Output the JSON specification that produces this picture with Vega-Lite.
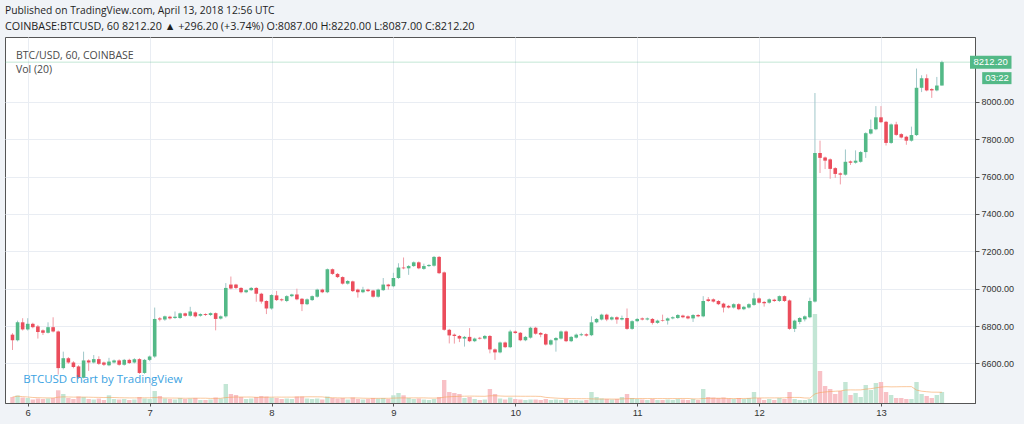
{
  "$schema": "https://vega.github.io/schema/vega-lite/v6.json",
  "width": 970,
  "height": 366,
  "autosize": {"type": "none"},
  "padding": {"left": 5, "top": 37, "right": 49, "bottom": 21},
  "background": "#f0f3f7",
  "title": {
    "text": "Published on TradingView.com, April 13, 2018 12:56 UTC",
    "subtitle": "COINBASE:BTCUSD, 60  8212.20 ▲ +296.20 (+3.74%) O:8087.00 H:8220.00 L:8087.00 C:8212.20",
    "anchor": "start",
    "frame": "group",
    "offset": 5,
    "dx": 0,
    "font": "Open Sans",
    "fontSize": 10.3,
    "fontWeight": "normal",
    "color": "#1e1e1e",
    "subtitleFont": "Open Sans",
    "subtitleFontSize": 10.8,
    "subtitleColor": "#1e1e1e",
    "subtitlePadding": 5
  },
  "config": {"view": {"fill": "white", "stroke": "#555555", "strokeWidth": 1}},
  "data": {"values": [
    {"t":-3,"o":6754,"h":6762,"l":6672,"c":6724,"v":600},
    {"t":-2,"o":6724,"h":6829,"l":6718,"c":6820,"v":760},
    {"t":-1,"o":6820,"h":6842,"l":6776,"c":6782,"v":550},
    {"t":0,"o":6782,"h":6842,"l":6776,"c":6812,"v":500},
    {"t":1,"o":6812,"h":6818,"l":6788,"c":6794,"v":350},
    {"t":2,"o":6798,"h":6806,"l":6733,"c":6768,"v":450},
    {"t":3,"o":6777,"h":6782,"l":6752,"c":6764,"v":400},
    {"t":4,"o":6764,"h":6820,"l":6760,"c":6794,"v":450},
    {"t":5,"o":6794,"h":6847,"l":6766,"c":6771,"v":500},
    {"t":6,"o":6771,"h":6776,"l":6540,"c":6575,"v":1270},
    {"t":7,"o":6575,"h":6663,"l":6568,"c":6628,"v":900},
    {"t":8,"o":6628,"h":6634,"l":6598,"c":6605,"v":500},
    {"t":9,"o":6605,"h":6612,"l":6574,"c":6581,"v":400},
    {"t":10,"o":6584,"h":6590,"l":6518,"c":6523,"v":650},
    {"t":11,"o":6523,"h":6663,"l":6520,"c":6616,"v":600},
    {"t":12,"o":6616,"h":6622,"l":6560,"c":6605,"v":400},
    {"t":13,"o":6605,"h":6645,"l":6600,"c":6623,"v":350},
    {"t":14,"o":6623,"h":6638,"l":6592,"c":6598,"v":450},
    {"t":15,"o":6605,"h":6610,"l":6586,"c":6593,"v":300},
    {"t":16,"o":6590,"h":6630,"l":6585,"c":6610,"v":770},
    {"t":17,"o":6605,"h":6621,"l":6600,"c":6616,"v":400},
    {"t":18,"o":6616,"h":6622,"l":6588,"c":6593,"v":350},
    {"t":19,"o":6593,"h":6624,"l":6588,"c":6619,"v":400},
    {"t":20,"o":6619,"h":6625,"l":6597,"c":6602,"v":300},
    {"t":21,"o":6605,"h":6628,"l":6600,"c":6623,"v":350},
    {"t":22,"o":6623,"h":6628,"l":6544,"c":6549,"v":600},
    {"t":23,"o":6549,"h":6624,"l":6544,"c":6619,"v":450},
    {"t":24,"o":6619,"h":6642,"l":6612,"c":6637,"v":400},
    {"t":25,"o":6637,"h":6899,"l":6630,"c":6838,"v":1200},
    {"t":26,"o":6841,"h":6848,"l":6825,"c":6835,"v":700},
    {"t":27,"o":6835,"h":6856,"l":6828,"c":6852,"v":450},
    {"t":28,"o":6850,"h":6855,"l":6835,"c":6841,"v":400},
    {"t":29,"o":6843,"h":6878,"l":6838,"c":6850,"v":350},
    {"t":30,"o":6843,"h":6872,"l":6838,"c":6868,"v":500},
    {"t":31,"o":6868,"h":6872,"l":6850,"c":6855,"v":400},
    {"t":32,"o":6855,"h":6903,"l":6850,"c":6878,"v":450},
    {"t":33,"o":6873,"h":6878,"l":6846,"c":6852,"v":500},
    {"t":34,"o":6855,"h":6868,"l":6850,"c":6864,"v":300},
    {"t":35,"o":6864,"h":6868,"l":6854,"c":6859,"v":300},
    {"t":36,"o":6859,"h":6873,"l":6854,"c":6869,"v":350},
    {"t":37,"o":6869,"h":6873,"l":6777,"c":6838,"v":550},
    {"t":38,"o":6840,"h":6857,"l":6835,"c":6852,"v":450},
    {"t":39,"o":6852,"h":7030,"l":6845,"c":7004,"v":1900},
    {"t":40,"o":7022,"h":7065,"l":6996,"c":7001,"v":900},
    {"t":41,"o":7022,"h":7026,"l":6998,"c":7004,"v":800},
    {"t":42,"o":7004,"h":7008,"l":6975,"c":6981,"v":600},
    {"t":43,"o":6981,"h":6996,"l":6976,"c":6992,"v":400},
    {"t":44,"o":6992,"h":7009,"l":6988,"c":7004,"v":450},
    {"t":45,"o":7004,"h":7008,"l":6930,"c":6973,"v":600},
    {"t":46,"o":6973,"h":6978,"l":6920,"c":6931,"v":700},
    {"t":47,"o":6934,"h":6938,"l":6864,"c":6894,"v":650},
    {"t":48,"o":6894,"h":6970,"l":6888,"c":6966,"v":550},
    {"t":49,"o":6964,"h":6988,"l":6934,"c":6939,"v":500},
    {"t":50,"o":6943,"h":6948,"l":6932,"c":6938,"v":400},
    {"t":51,"o":6934,"h":6965,"l":6928,"c":6960,"v":450},
    {"t":52,"o":6960,"h":6973,"l":6955,"c":6969,"v":400},
    {"t":53,"o":6969,"h":7000,"l":6938,"c":6943,"v":650},
    {"t":54,"o":6946,"h":6950,"l":6880,"c":6917,"v":650},
    {"t":55,"o":6917,"h":6948,"l":6912,"c":6943,"v":450},
    {"t":56,"o":6939,"h":6964,"l":6934,"c":6960,"v":400},
    {"t":57,"o":6957,"h":7000,"l":6952,"c":6995,"v":450},
    {"t":58,"o":6995,"h":7000,"l":6976,"c":6981,"v":350},
    {"t":59,"o":6981,"h":7108,"l":6976,"c":7104,"v":650},
    {"t":60,"o":7104,"h":7108,"l":7074,"c":7079,"v":500},
    {"t":61,"o":7079,"h":7084,"l":7057,"c":7062,"v":450},
    {"t":62,"o":7062,"h":7066,"l":7022,"c":7027,"v":500},
    {"t":63,"o":7027,"h":7046,"l":7022,"c":7041,"v":350},
    {"t":64,"o":7039,"h":7043,"l":6982,"c":6987,"v":550},
    {"t":65,"o":6995,"h":7000,"l":6952,"c":6981,"v":400},
    {"t":66,"o":6981,"h":7010,"l":6976,"c":6995,"v":350},
    {"t":67,"o":6995,"h":7000,"l":6982,"c":6987,"v":400},
    {"t":68,"o":6990,"h":6994,"l":6952,"c":6957,"v":500},
    {"t":69,"o":6957,"h":7000,"l":6952,"c":6995,"v":450},
    {"t":70,"o":6992,"h":7057,"l":6988,"c":7022,"v":500},
    {"t":71,"o":7022,"h":7026,"l":6995,"c":7013,"v":400},
    {"t":72,"o":7013,"h":7085,"l":7008,"c":7057,"v":770},
    {"t":73,"o":7057,"h":7136,"l":7052,"c":7113,"v":1000},
    {"t":74,"o":7113,"h":7167,"l":7104,"c":7109,"v":770},
    {"t":75,"o":7109,"h":7126,"l":7074,"c":7121,"v":500},
    {"t":76,"o":7121,"h":7146,"l":7116,"c":7141,"v":400},
    {"t":77,"o":7141,"h":7146,"l":7104,"c":7109,"v":450},
    {"t":78,"o":7106,"h":7134,"l":7101,"c":7121,"v":350},
    {"t":79,"o":7121,"h":7131,"l":7116,"c":7127,"v":300},
    {"t":80,"o":7123,"h":7175,"l":7118,"c":7170,"v":400},
    {"t":81,"o":7170,"h":7175,"l":7078,"c":7083,"v":600},
    {"t":82,"o":7087,"h":7092,"l":6775,"c":6780,"v":2300},
    {"t":83,"o":6780,"h":6785,"l":6707,"c":6750,"v":1100},
    {"t":84,"o":6754,"h":6760,"l":6706,"c":6747,"v":1000},
    {"t":85,"o":6747,"h":6752,"l":6714,"c":6733,"v":900},
    {"t":86,"o":6733,"h":6747,"l":6690,"c":6742,"v":500},
    {"t":87,"o":6742,"h":6789,"l":6714,"c":6719,"v":600},
    {"t":88,"o":6719,"h":6738,"l":6714,"c":6733,"v":400},
    {"t":89,"o":6737,"h":6742,"l":6728,"c":6733,"v":300},
    {"t":90,"o":6733,"h":6752,"l":6728,"c":6747,"v":350},
    {"t":91,"o":6747,"h":6752,"l":6654,"c":6675,"v":1400},
    {"t":92,"o":6675,"h":6680,"l":6619,"c":6659,"v":900},
    {"t":93,"o":6659,"h":6717,"l":6654,"c":6712,"v":450},
    {"t":94,"o":6712,"h":6717,"l":6682,"c":6687,"v":350},
    {"t":95,"o":6687,"h":6780,"l":6682,"c":6771,"v":550},
    {"t":96,"o":6771,"h":6776,"l":6758,"c":6763,"v":400},
    {"t":97,"o":6764,"h":6768,"l":6719,"c":6724,"v":350},
    {"t":98,"o":6724,"h":6747,"l":6719,"c":6742,"v":300},
    {"t":99,"o":6738,"h":6796,"l":6733,"c":6791,"v":350},
    {"t":100,"o":6791,"h":6796,"l":6754,"c":6759,"v":350},
    {"t":101,"o":6763,"h":6768,"l":6740,"c":6754,"v":300},
    {"t":102,"o":6757,"h":6762,"l":6696,"c":6701,"v":400},
    {"t":103,"o":6701,"h":6729,"l":6696,"c":6724,"v":300},
    {"t":104,"o":6724,"h":6741,"l":6663,"c":6736,"v":350},
    {"t":105,"o":6733,"h":6776,"l":6728,"c":6771,"v":300},
    {"t":106,"o":6771,"h":6776,"l":6714,"c":6719,"v":400},
    {"t":107,"o":6719,"h":6747,"l":6714,"c":6742,"v":300},
    {"t":108,"o":6738,"h":6760,"l":6733,"c":6754,"v":300},
    {"t":109,"o":6751,"h":6764,"l":6746,"c":6756,"v":250},
    {"t":110,"o":6756,"h":6761,"l":6744,"c":6749,"v":300},
    {"t":111,"o":6751,"h":6852,"l":6746,"c":6820,"v":1100},
    {"t":112,"o":6820,"h":6843,"l":6815,"c":6838,"v":600},
    {"t":113,"o":6835,"h":6866,"l":6830,"c":6861,"v":450},
    {"t":114,"o":6861,"h":6866,"l":6826,"c":6835,"v":400},
    {"t":115,"o":6835,"h":6852,"l":6830,"c":6847,"v":350},
    {"t":116,"o":6847,"h":6852,"l":6812,"c":6835,"v":400},
    {"t":117,"o":6835,"h":6856,"l":6830,"c":6843,"v":600},
    {"t":118,"o":6843,"h":6894,"l":6780,"c":6785,"v":900},
    {"t":119,"o":6785,"h":6831,"l":6780,"c":6826,"v":500},
    {"t":120,"o":6826,"h":6843,"l":6821,"c":6838,"v":400},
    {"t":121,"o":6841,"h":6846,"l":6830,"c":6835,"v":350},
    {"t":122,"o":6835,"h":6846,"l":6830,"c":6841,"v":300},
    {"t":123,"o":6838,"h":6843,"l":6808,"c":6817,"v":400},
    {"t":124,"o":6817,"h":6834,"l":6812,"c":6829,"v":300},
    {"t":125,"o":6832,"h":6861,"l":6824,"c":6829,"v":300},
    {"t":126,"o":6829,"h":6846,"l":6808,"c":6841,"v":350},
    {"t":127,"o":6841,"h":6852,"l":6836,"c":6847,"v":300},
    {"t":128,"o":6843,"h":6864,"l":6838,"c":6859,"v":400},
    {"t":129,"o":6856,"h":6861,"l":6842,"c":6847,"v":350},
    {"t":130,"o":6852,"h":6857,"l":6836,"c":6841,"v":300},
    {"t":131,"o":6841,"h":6864,"l":6822,"c":6859,"v":400},
    {"t":132,"o":6859,"h":6864,"l":6847,"c":6852,"v":300},
    {"t":133,"o":6852,"h":6960,"l":6847,"c":6934,"v":1400},
    {"t":134,"o":6943,"h":6955,"l":6929,"c":6934,"v":600},
    {"t":135,"o":6943,"h":6948,"l":6926,"c":6931,"v":550},
    {"t":136,"o":6934,"h":6939,"l":6912,"c":6917,"v":500},
    {"t":137,"o":6920,"h":6925,"l":6873,"c":6899,"v":550},
    {"t":138,"o":6908,"h":6913,"l":6894,"c":6899,"v":450},
    {"t":139,"o":6899,"h":6922,"l":6894,"c":6917,"v":400},
    {"t":140,"o":6917,"h":6922,"l":6885,"c":6890,"v":500},
    {"t":141,"o":6890,"h":6908,"l":6885,"c":6903,"v":400},
    {"t":142,"o":6899,"h":6922,"l":6894,"c":6917,"v":500},
    {"t":143,"o":6913,"h":6978,"l":6908,"c":6948,"v":1100},
    {"t":144,"o":6948,"h":6953,"l":6920,"c":6925,"v":500},
    {"t":145,"o":6929,"h":6934,"l":6904,"c":6922,"v":300},
    {"t":146,"o":6925,"h":6948,"l":6920,"c":6943,"v":400},
    {"t":147,"o":6941,"h":6946,"l":6929,"c":6934,"v":300},
    {"t":148,"o":6934,"h":6964,"l":6929,"c":6960,"v":500},
    {"t":149,"o":6960,"h":6964,"l":6929,"c":6934,"v":400},
    {"t":150,"o":6937,"h":6942,"l":6780,"c":6785,"v":1100},
    {"t":151,"o":6785,"h":6834,"l":6768,"c":6829,"v":400},
    {"t":152,"o":6822,"h":6848,"l":6810,"c":6843,"v":300},
    {"t":153,"o":6836,"h":6857,"l":6825,"c":6852,"v":300},
    {"t":154,"o":6847,"h":6952,"l":6842,"c":6934,"v":400},
    {"t":155,"o":6931,"h":8047,"l":6926,"c":7726,"v":8900},
    {"t":156,"o":7726,"h":7792,"l":7619,"c":7700,"v":3200},
    {"t":157,"o":7702,"h":7707,"l":7640,"c":7685,"v":1700},
    {"t":158,"o":7692,"h":7697,"l":7588,"c":7641,"v":1400},
    {"t":159,"o":7645,"h":7650,"l":7593,"c":7614,"v":900},
    {"t":160,"o":7617,"h":7622,"l":7558,"c":7610,"v":1200},
    {"t":161,"o":7610,"h":7745,"l":7605,"c":7679,"v":2100},
    {"t":162,"o":7681,"h":7686,"l":7662,"c":7674,"v":800},
    {"t":163,"o":7674,"h":7740,"l":7669,"c":7685,"v":1000},
    {"t":164,"o":7679,"h":7736,"l":7674,"c":7731,"v":600},
    {"t":165,"o":7731,"h":7837,"l":7700,"c":7832,"v":1800},
    {"t":166,"o":7830,"h":7905,"l":7825,"c":7853,"v":1300},
    {"t":167,"o":7853,"h":7977,"l":7848,"c":7917,"v":2000},
    {"t":168,"o":7917,"h":7977,"l":7886,"c":7891,"v":2100},
    {"t":169,"o":7893,"h":7898,"l":7766,"c":7780,"v":1100},
    {"t":170,"o":7780,"h":7884,"l":7775,"c":7879,"v":800},
    {"t":171,"o":7879,"h":7893,"l":7818,"c":7823,"v":500},
    {"t":172,"o":7827,"h":7832,"l":7804,"c":7809,"v":500},
    {"t":173,"o":7813,"h":7818,"l":7770,"c":7792,"v":400},
    {"t":174,"o":7792,"h":7867,"l":7787,"c":7822,"v":400},
    {"t":175,"o":7822,"h":8178,"l":7817,"c":8075,"v":2100},
    {"t":176,"o":8075,"h":8142,"l":8052,"c":8126,"v":900},
    {"t":177,"o":8126,"h":8147,"l":8056,"c":8061,"v":700},
    {"t":178,"o":8068,"h":8073,"l":8021,"c":8061,"v":500},
    {"t":179,"o":8061,"h":8133,"l":8056,"c":8087,"v":800},
    {"t":180,"o":8087,"h":8220,"l":8087,"c":8212.2,"v":1100}
  ]},
  "resolve": {"scale": {"y": "independent"}},
  "layer": [
    {
      "layer": [
        {
          "mark": {"type": "bar", "size": 4.4},
          "encoding": {
            "x": {
              "field": "t", "type": "quantitative",
              "scale": {"domain": [-3.49, 185.53], "nice": false, "zero": false},
              "axis": {
                "title": null,
                "values": [0, 24, 48, 72, 96, 120, 144, 168],
                "labelExpr": "'' + (datum.value / 24 + 6)",
                "grid": true, "gridColor": "#e9edf3",
                "tickSize": 3, "tickColor": "#555555",
                "domainColor": "#555555",
                "labelFont": "Liberation Sans", "labelFontSize": 9.5, "labelColor": "#333333",
                "labelPadding": 1
              }
            },
            "y": {"field": "v", "type": "quantitative", "scale": {"domain": [0, 36600], "nice": false}, "axis": null},
            "color": {"condition": {"test": "datum.c >= datum.o", "value": "#c3e6d5"}, "value": "#f8c1c6"}
          }
        },
        {
          "transform": [{"window": [{"op": "mean", "field": "v", "as": "ma"}], "frame": [-19, 0], "sort": [{"field": "t"}]}],
          "mark": {"type": "line", "color": "#f7a35c", "strokeWidth": 1, "opacity": 0.6},
          "encoding": {
            "x": {"field": "t", "type": "quantitative"},
            "y": {"field": "ma", "type": "quantitative"}
          }
        }
      ]
    },
    {
      "layer": [
        {
          "mark": {"type": "rule", "strokeWidth": 1},
          "encoding": {
            "x": {"field": "t", "type": "quantitative"},
            "y": {
              "field": "l", "type": "quantitative",
              "scale": {"domain": [6415, 8320], "nice": false, "zero": false},
              "axis": {
                "orient": "right", "title": null,
                "values": [6600, 6800, 7000, 7200, 7400, 7600, 7800, 8000],
                "format": ".2f",
                "grid": true, "gridColor": "#e9edf3",
                "tickSize": 4, "tickColor": "#555555",
                "domainColor": "#555555",
                "labelFont": "Liberation Sans", "labelFontSize": 9, "labelColor": "#333333",
                "labelPadding": 2
              }
            },
            "y2": {"field": "h"},
            "color": {"condition": {"test": "datum.c >= datum.o", "value": "#9fc7c9"}, "value": "#f09ca6"}
          }
        },
        {
          "mark": {"type": "bar", "size": 3.6},
          "encoding": {
            "x": {"field": "t", "type": "quantitative"},
            "y": {"field": "o", "type": "quantitative"},
            "y2": {"field": "c"},
            "color": {"condition": {"test": "datum.c >= datum.o", "value": "#53b987"}, "value": "#eb4d5c"}
          }
        },
        {
          "data": {"values": [{}]},
          "mark": {"type": "rule", "color": "#53b987", "opacity": 0.35, "strokeWidth": 1},
          "encoding": {"y": {"datum": 8212.2}}
        },
        {
          "data": {"values": [{}]},
          "mark": {"type": "bar", "color": "#53b987", "height": 13, "clip": false},
          "encoding": {"x": {"datum": 185.53}, "x2": {"datum": 193.7}, "y": {"datum": 8212.2}}
        },
        {
          "data": {"values": [{}]},
          "mark": {"type": "bar", "color": "#53b987", "height": 12, "yOffset": 16, "clip": false},
          "encoding": {"x": {"datum": 187.93}, "x2": {"datum": 193.7}, "y": {"datum": 8212.2}}
        },
        {
          "data": {"values": [{}]},
          "mark": {"type": "text", "color": "white", "font": "Liberation Sans", "fontSize": 9.5, "align": "center", "baseline": "middle", "clip": false},
          "encoding": {"x": {"datum": 189.6}, "y": {"datum": 8212.2}, "text": {"value": "8212.20"}}
        },
        {
          "data": {"values": [{}]},
          "mark": {"type": "text", "color": "white", "font": "Liberation Sans", "fontSize": 9.5, "align": "center", "baseline": "middle", "dy": 16, "clip": false},
          "encoding": {"x": {"datum": 190.85}, "y": {"datum": 8212.2}, "text": {"value": "03:22"}}
        },
        {
          "data": {"values": [{}]},
          "mark": {"type": "text", "color": "#4a4a4a", "font": "Open Sans", "fontSize": 10.5, "align": "left", "baseline": "middle"},
          "encoding": {"x": {"datum": -2.3}, "y": {"datum": 8243}, "text": {"value": "BTC/USD, 60, COINBASE"}}
        },
        {
          "data": {"values": [{}]},
          "mark": {"type": "text", "color": "#4a4a4a", "font": "Open Sans", "fontSize": 10.5, "align": "left", "baseline": "middle"},
          "encoding": {"x": {"datum": -2.3}, "y": {"datum": 8169}, "text": {"value": "Vol (20)"}}
        },
        {
          "data": {"values": [{}]},
          "mark": {"type": "text", "color": "#3ca3e2", "font": "Open Sans", "fontSize": 11.5, "align": "left", "baseline": "middle"},
          "encoding": {"x": {"datum": -0.9}, "y": {"datum": 6510}, "text": {"value": "BTCUSD chart by TradingView"}}
        }
      ]
    }
  ]
}
